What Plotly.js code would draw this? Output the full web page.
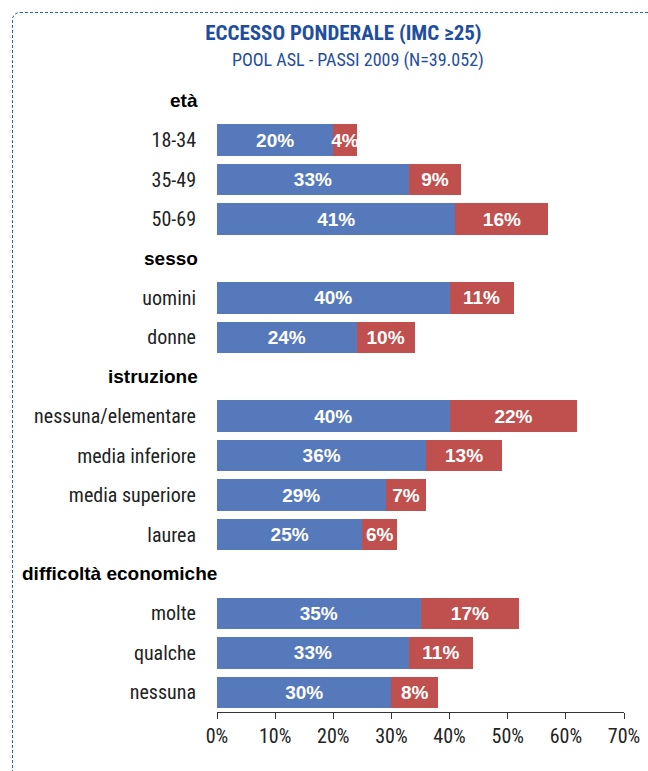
<!DOCTYPE html>
<html><head><meta charset="utf-8">
<script src="https://cdn.plot.ly/plotly-3.0.1.min.js"></script>
<style>
html,body{margin:0;padding:0;background:#fff;}
#wrap{position:relative;width:648px;height:771px;overflow:hidden;}
#chart{position:absolute;left:0;top:0;width:648px;height:771px;}
#frame{position:absolute;left:12px;top:12px;width:700px;height:800px;border-top:1px dashed #2f63b8;border-left:1px dashed #2f63b8;border-top-left-radius:8px;pointer-events:none;}
</style></head>
<body><div id="wrap"><div id="chart"></div><div id="frame"></div></div>
<script>
const categories = ["età","18-34","35-49","50-69","sesso","uomini","donne","istruzione","nessuna/elementare","media inferiore","media superiore","laurea","difficoltà economiche","molte","qualche","nessuna"];
const headers = ["età","sesso","istruzione","difficoltà economiche"];
const blueValues = [null,20,33,41,null,40,24,null,40,36,29,25,null,35,33,30];
const redValues  = [null,4,9,16,null,11,10,null,22,13,7,6,null,17,11,8];
const xTickVals = [0,10,20,30,40,50,60,70];
const xTickText = ["0%","10%","20%","30%","40%","50%","60%","70%"];

const narrow = "Liberation Sans Narrow, Arial Narrow, Roboto Condensed, sans-serif";
const labels = v => v.map(x => x == null ? "" : x + "%");
const tickText = categories.map(c => headers.includes(c) ? "" : c);

const L = 217, PW = 407;
const headerAnnotations = headers.map(h => {
  const long = h.length > 15;
  return {text:"<b>" + h + "</b>", xref:"paper", yref:"y", y:h,
          x: long ? (20 - L) / PW : (200 - L) / PW, xanchor: long ? "left" : "right", yanchor:"middle",
          showarrow:false, font:{family:"Liberation Sans, Arial, sans-serif", size:19, color:"#000"}};
});

const barFont = {family:"Liberation Sans, Arial, sans-serif", size:19, color:"#fff", weight:"bold"};
const traces = [
  {type:"bar", orientation:"h", y:categories, x:blueValues, text:labels(blueValues),
   marker:{color:"#5579BA"}, textposition:"inside", insidetextanchor:"middle", constraintext:"none", textangle:0,
   textfont:barFont, hoverinfo:"none"},
  {type:"bar", orientation:"h", y:categories, x:redValues, text:labels(redValues),
   marker:{color:"#C0504D"}, textposition:"inside", insidetextanchor:"middle", constraintext:"none", textangle:0,
   textfont:barFont, hoverinfo:"none"}
];

const layout = {
  width:648, height:771, barmode:"stack", bargap:0.2, showlegend:false,
  paper_bgcolor:"#fff", plot_bgcolor:"#fff",
  margin:{l:L, r:24, t:81, b:59},
  title:{text:"<b>ECCESSO PONDERALE (IMC ≥25)</b>", xref:"container", yref:"container", x:0.53, xanchor:"center", y:1-33/771, yanchor:"middle",
         font:{family:narrow, size:21, color:"#1F4E9E"}},
  annotations:[{text:"POOL ASL - PASSI 2009 (N=39.052)", xref:"paper", yref:"paper", x:(358-L)/PW, y:1+(81-60)/631, xanchor:"center", yanchor:"middle", showarrow:false,
         font:{family:narrow, size:18, color:"#1F4E9E"}}].concat(headerAnnotations),
  xaxis:{range:[0,70], tickvals:xTickVals, ticktext:xTickText, showgrid:false, zeroline:false,
         showline:true, linecolor:"#333", linewidth:1, ticks:"outside", ticklen:6, tickcolor:"#333",
         tickfont:{family:narrow, size:20, color:"#222"}, fixedrange:true},
  yaxis:{type:"category", categoryorder:"array", categoryarray:categories, tickvals:categories, ticktext:tickText,
         autorange:"reversed", showgrid:false, zeroline:false, showline:false, ticks:"", ticklabelstandoff:20,
         tickfont:{family:narrow, size:20, color:"#222"}, fixedrange:true}
};
Plotly.newPlot("chart", traces, layout, {displayModeBar:false, staticPlot:true});
</script></body></html>
